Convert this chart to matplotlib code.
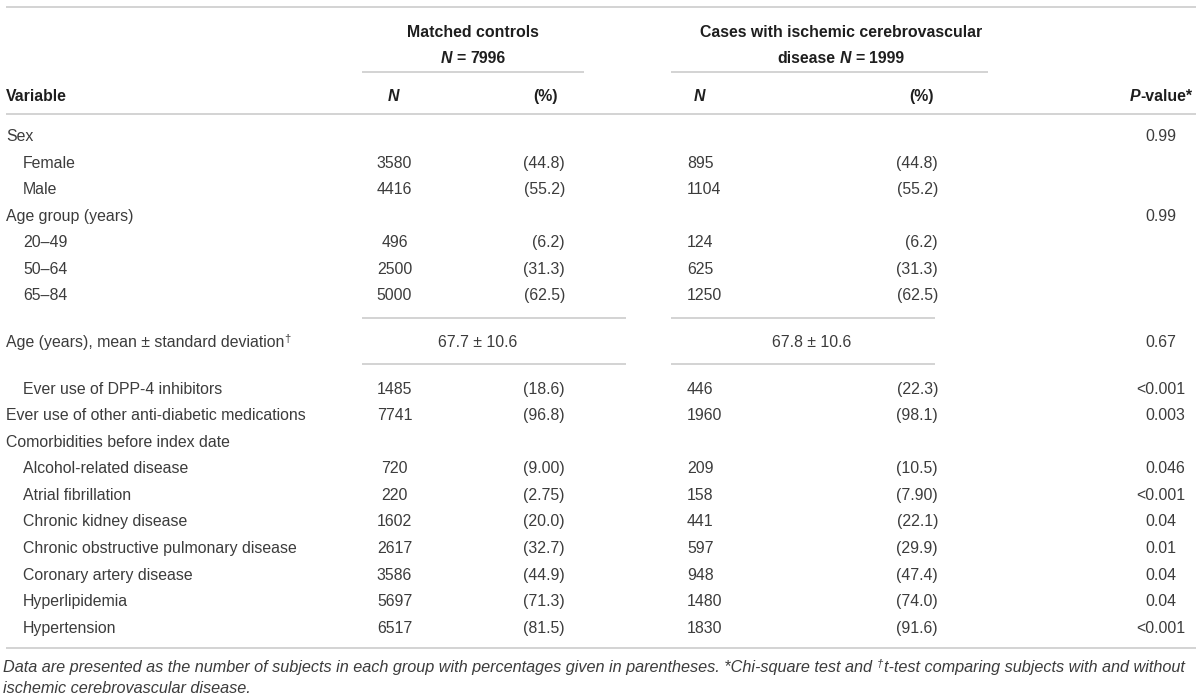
"""
Table 1 style figure: matched controls vs ischemic cerebrovascular cases
"""
import matplotlib.pyplot as plt

# ---- data -------------------------------------------------------------
variables = [
    "Sex", "Female", "Male", "Age group (years)", "20–49", "50–64", "65–84",
    "Age (years), mean ± standard deviation",
    "Ever use of DPP-4 inhibitors", "Ever use of other anti-diabetic medications",
    "Comorbidities before index date", "Alcohol-related disease",
    "Atrial fibrillation", "Chronic kidney disease",
    "Chronic obstructive pulmonary disease", "Coronary artery disease",
    "Hyperlipidemia", "Hypertension",
]
level = [0, 1, 1, 0, 1, 1, 1, 0, 1, 0, 0, 1, 1, 1, 1, 1, 1, 1]

ctrl_n = [None, 3580, 4416, None, 496, 2500, 5000, None, 1485, 7741,
          None, 720, 220, 1602, 2617, 3586, 5697, 6517]
ctrl_pct = [None, "44.8", "55.2", None, "6.2", "31.3", "62.5", None, "18.6", "96.8",
            None, "9.00", "2.75", "20.0", "32.7", "44.9", "71.3", "81.5"]
case_n = [None, 895, 1104, None, 124, 625, 1250, None, 446, 1960,
          None, 209, 158, 441, 597, 948, 1480, 1830]
case_pct = [None, "44.8", "55.2", None, "6.2", "31.3", "62.5", None, "22.3", "98.1",
            None, "10.5", "7.90", "22.1", "29.9", "47.4", "74.0", "91.6"]
p_values = ["0.99", None, None, "0.99", None, None, None, "0.67", "<0.001", "0.003",
            None, "0.046", "<0.001", "0.04", "0.01", "0.04", "0.04", "<0.001"]

ctrl_total, case_total = 7996, 1999
ctrl_age = (67.7, 10.6)
case_age = (67.8, 10.6)
age_row = 7

footnote_1 = ("Data are presented as the number of subjects in each group with percentages "
              "given in parentheses. *Chi-square test and")
footnote_1b = "t-test comparing subjects with and without"
footnote_2 = "ischemic cerebrovascular disease."

# ---- style ------------------------------------------------------------
FONT = "Liberation Sans"
plt.rcParams["font.family"] = [FONT, "DejaVu Sans"]
EM = 15.9                    # font size in pixels
FS = EM * 72 / 100           # in points at dpi 100
TXT = "#3c3c3c"
HEAD = "#1e1e1e"
RULE = "#d0d0d0"

STYLES = {
    "r": dict(weight="normal", style="normal"),
    "b": dict(weight="bold", style="normal"),
    "i": dict(weight="normal", style="italic"),
    "bi": dict(weight="bold", style="italic"),
}

fig = plt.figure(figsize=(12, 6.99), dpi=100)
ax = fig.add_axes([0, 0, 1, 1])
ax.set_xlim(0, 1200)
ax.set_ylim(699, 0)
ax.axis("off")
renderer = fig.canvas.get_renderer()


def base(yc, em=EM):
    # baseline position for a text whose caps are centred on yc
    return yc + 0.36 * em


def runs_text(x, yc, runs, ha="left", em=EM, color=TXT):
    """Draw mixed-style text. runs: (text, style, gap_before, raise_px, scale)."""
    items = []
    for r in runs:
        s, st = r[0], r[1]
        gap = r[2] if len(r) > 2 else 0
        rise = r[3] if len(r) > 3 else 0
        scale = r[4] if len(r) > 4 else 1.0
        t = ax.text(0, base(yc, em) - rise, s, fontsize=FS * em / EM * scale,
                    color=color, va="baseline", ha="left", **STYLES[st])
        w = t.get_window_extent(renderer).width
        items.append((t, w, gap * em))
    total = sum(w + g for _, w, g in items)
    if ha == "center":
        cur = x - total / 2
    elif ha == "right":
        cur = x - total
    else:
        cur = x
    for t, w, g in items:
        cur += g
        t.set_x(cur)
        cur += w
    return items, total


SP = 0.278  # space width in em

# ---- rules ------------------------------------------------------------
ax.hlines(7, 6, 1196, color=RULE, lw=1.3)
ax.hlines(72, 362, 584, color=RULE, lw=1.3)
ax.hlines(72, 671, 988, color=RULE, lw=1.3)
ax.hlines(114, 6, 1196, color=RULE, lw=1.3)
ax.hlines([318, 364], 362, 626, color=RULE, lw=1.3)
ax.hlines([318, 364], 671, 935, color=RULE, lw=1.3)
ax.hlines(648, 6, 1196, color=RULE, lw=1.3)

# ---- header -----------------------------------------------------------
runs_text(473, 31, [("Matched controls", "b")], ha="center", color=HEAD)
runs_text(473, 57, [("N", "bi"), ("=", "b", SP), (f"{ctrl_total}", "b", SP)],
          ha="center", color=HEAD)
runs_text(841, 31, [("Cases with ischemic cerebrovascular", "b")], ha="center", color=HEAD)
runs_text(841, 57, [("disease", "b"), ("N", "bi", SP), ("=", "b", SP),
                    (f"{case_total}", "b", SP)], ha="center", color=HEAD)

runs_text(6, 95, [("Variable", "b")], color=HEAD)
runs_text(393, 95, [("N", "bi")], ha="center", color=HEAD)
runs_text(545, 95, [("(%)", "b")], ha="center", color=HEAD)
runs_text(699, 95, [("N", "bi")], ha="center", color=HEAD)
runs_text(922, 95, [("(%)", "b")], ha="center", color=HEAD)
runs_text(1192, 95, [("P", "bi"), ("-value*", "b")], ha="right", color=HEAD)

# ---- body -------------------------------------------------------------
row_y = [135.5 + i * 26.5 for i in range(7)] + [341] + \
        [388 + i * 26.55 for i in range(10)]

digit_w = 0.556 * EM
for i, name in enumerate(variables):
    y = row_y[i]
    x0 = 6 + 17 * level[i]
    if i == age_row:
        runs_text(x0, y, [(name, "r"), ("†", "r", 0.02, 5, 0.7)])
        runs_text(478, y, [(f"{ctrl_age[0]:.1f} ± {ctrl_age[1]:.1f}", "r")], ha="center")
        runs_text(812, y, [(f"{case_age[0]:.1f} ± {case_age[1]:.1f}", "r")], ha="center")
    else:
        runs_text(x0, y, [(name, "r")])
    if ctrl_n[i] is not None:
        runs_text(394.5, y, [(str(ctrl_n[i]), "r")], ha="center")
        runs_text(565, y, [(f"({ctrl_pct[i]})", "r")], ha="right")
        runs_text(687, y, [(str(case_n[i]), "r")], ha="left")
        runs_text(938, y, [(f"({case_pct[i]})", "r")], ha="right")
    if p_values[i] is not None:
        ndec = len(p_values[i].split(".")[1])
        runs_text(1185 - (3 - ndec) * digit_w, y, [(p_values[i], "r")], ha="right")

# ---- footnote: fit the first line to the table width -----------------
fn_runs = [(footnote_1, "i"), ("†", "i", SP, 5, 0.7), (footnote_1b, "i", 0.05)]
items, w = runs_text(3, 666, fn_runs, em=EM)
for t, _, _ in items:
    t.remove()
fn_em = EM * 1190 / w
runs_text(3, 666, fn_runs, em=fn_em)
runs_text(3, 687, [(footnote_2, "i")], em=fn_em)

fig.savefig("out.png", dpi=100)
plt.close(fig)
